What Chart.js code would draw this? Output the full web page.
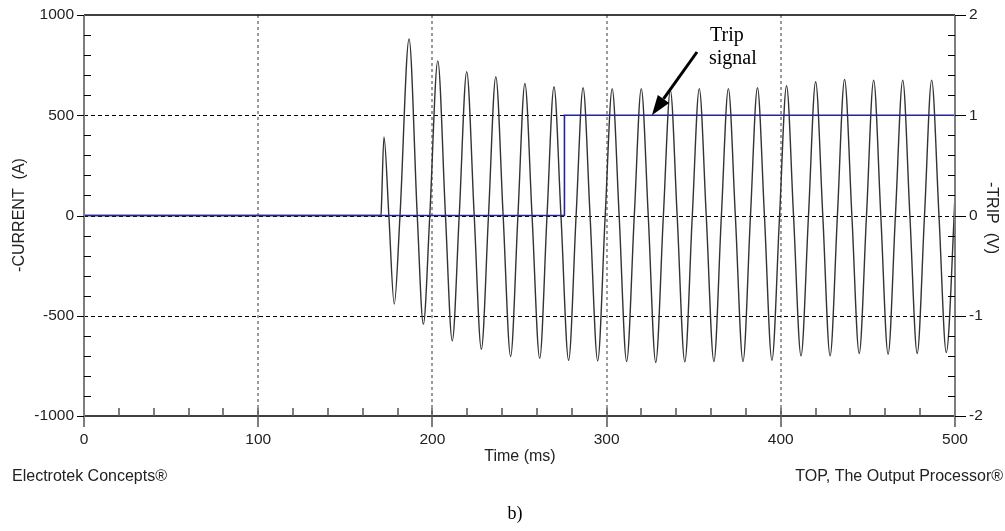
<!DOCTYPE html>
<html>
<head>
<meta charset="utf-8">
<script src="https://cdn.jsdelivr.net/npm/chart.js@4"></script>
<style>
  html, body { margin: 0; padding: 0; background: #ffffff; }
  #wrap { width: 1005px; height: 531px; position: relative; }
</style>
</head>
<body>
<div id="wrap"><canvas id="c" width="1005" height="531"></canvas></div>
<script>
// Fault current waveform (A) versus time (ms): extremes and zero crossings
const timeMs = [
  0, 170.5, 170.8, 172.2, 175.0, 178.1, 181.4, 186.6, 191.3, 194.8,
  198.5, 203.1, 207.5, 211.4, 215.4, 219.7, 224.0, 228.1, 232.2, 236.4,
  240.6, 244.9, 249.1, 253.1, 257.2, 261.6, 265.8, 269.8, 273.8, 278.2,
  282.5, 286.5, 290.5, 294.9, 299.2, 303.2, 307.2, 311.5, 315.9, 319.9,
  323.9, 328.2, 332.6, 336.6, 340.5, 344.9, 349.2, 353.2, 357.2, 361.6,
  365.9, 369.9, 373.9, 378.3, 382.6, 386.6, 390.6, 394.9, 399.3, 403.3,
  407.3, 411.6, 415.9, 420.0, 424.1, 428.3, 432.5, 436.6, 440.8, 445.0,
  449.2, 453.3, 457.4, 461.6, 465.8, 470.0, 474.1, 478.3, 482.5, 486.6,
  490.8, 495.0, 499.5, 500.0
];
const currentA = [
  0, 0, 60, 392, 0, -442, 0, 880, 0, -542,
  0, 771, 0, -625, 0, 717, 0, -667, 0, 692,
  0, -703, 0, 658, 0, -712, 0, 642, 0, -722,
  0, 637, 0, -725, 0, 633, 0, -728, 0, 633,
  0, -733, 0, 625, 0, -730, 0, 633, 0, -728,
  0, 633, 0, -728, 0, 637, 0, -722, 0, 647,
  0, -700, 0, 667, 0, -700, 0, 678, 0, -688,
  0, 675, 0, -692, 0, 675, 0, -688, 0, 675,
  0, -683, 0, 110
];

// Trip signal (V)
const tripTime = [0, 275.8, 275.8, 500];
const tripV = [0, 0, 1, 1];

// Axis ticks
const xTicks = [0, 100, 200, 300, 400, 500];
const currentTicks = [-1000, -500, 0, 500, 1000];
const tripTicks = [-2, -1, 0, 1, 2];

const SANS = '"Liberation Sans", Arial, sans-serif';
const SERIF = '"Liberation Serif", "Times New Roman", serif';

const toPoints = (xs, ys) => xs.map((t, i) => ({ x: t, y: ys[i] }));

function hLine(ctx, x0, x1, y) {
  ctx.beginPath(); ctx.moveTo(x0, y); ctx.lineTo(x1, y); ctx.stroke();
}
function vLine(ctx, x, y0, y1) {
  ctx.beginPath(); ctx.moveTo(x, y0); ctx.lineTo(x, y1); ctx.stroke();
}

const gridPlugin = {
  id: 'gridUnder',
  beforeDatasetsDraw(chart) {
    const { ctx, chartArea: a, scales: { x, y } } = chart;
    ctx.save();
    // dotted vertical grid
    ctx.strokeStyle = '#7a7a7a';
    ctx.lineWidth = 1.5;
    ctx.setLineDash([3, 3]);
    xTicks.slice(1, -1).forEach(v => {
      const px = Math.round(x.getPixelForValue(v));
      vLine(ctx, px, a.top, a.bottom);
    });
    // dashed horizontal grid
    ctx.strokeStyle = '#000000';
    ctx.lineWidth = 1;
    ctx.setLineDash([4, 3]);
    currentTicks.slice(1, -1).forEach(v => {
      const py = Math.round(y.getPixelForValue(v)) + 0.5;
      hLine(ctx, a.left, a.right, py);
    });
    ctx.restore();
  }
};

const axesPlugin = {
  id: 'axesOver',
  afterDatasetsDraw(chart) {
    const { ctx, chartArea: a, scales: { x, y, y2 } } = chart;
    ctx.save();
    ctx.setLineDash([]);

    // frame lines
    ctx.strokeStyle = '#000000';
    ctx.lineWidth = 1.5;
    hLine(ctx, a.left, a.right, a.top);
    hLine(ctx, a.left, a.right, a.bottom);
    ctx.strokeStyle = '#7d7d7d';
    ctx.lineWidth = 2;
    vLine(ctx, a.left, a.top, a.bottom + 11);
    vLine(ctx, a.right, a.top, a.bottom + 11);

    // left axis ticks
    ctx.strokeStyle = '#000000';
    ctx.lineWidth = 1;
    for (let v = -900; v < 1000; v += 100) {
      if (v % 500 === 0) continue;
      const py = Math.round(y.getPixelForValue(v)) + 0.5;
      hLine(ctx, a.left, a.left + 7, py);
    }
    currentTicks.forEach(v => {
      const py = Math.round(y.getPixelForValue(v)) + 0.5;
      hLine(ctx, a.left - 7, a.left, py);
    });

    // right axis ticks
    for (let k = -9; k <= 9; k++) {
      if (k % 5 === 0) continue;
      const py = Math.round(y2.getPixelForValue(k * 0.2)) + 0.5;
      hLine(ctx, a.right - 7, a.right, py);
    }
    tripTicks.forEach(v => {
      const py = Math.round(y2.getPixelForValue(v)) + 0.5;
      hLine(ctx, a.right, a.right + 11, py);
    });

    // bottom axis ticks
    ctx.strokeStyle = '#555555';
    ctx.lineWidth = 1.5;
    for (let v = 20; v < 500; v += 20) {
      const px = Math.round(x.getPixelForValue(v));
      if (v % 100 === 0) vLine(ctx, px, a.bottom - 8, a.bottom + 11);
      else vLine(ctx, px, a.bottom - 8, a.bottom);
    }

    // tick labels
    ctx.fillStyle = '#222222';
    ctx.font = '15.5px ' + SANS;
    ctx.textBaseline = 'middle';
    ctx.textAlign = 'right';
    currentTicks.forEach(v => ctx.fillText(String(v), a.left - 10, y.getPixelForValue(v)));
    ctx.textAlign = 'left';
    tripTicks.forEach(v => ctx.fillText(String(v), a.right + 14, y2.getPixelForValue(v)));
    ctx.textAlign = 'center';
    xTicks.forEach(v => ctx.fillText(String(v), x.getPixelForValue(v), a.bottom + 24));

    // axis titles
    ctx.font = '16px ' + SANS;
    ctx.fillText('Time (ms)', 520, 457);
    ctx.save();
    ctx.translate(20, 215);
    ctx.rotate(-Math.PI / 2);
    ctx.fillText('-CURRENT  (A)', 0, 0);
    ctx.restore();
    ctx.save();
    ctx.translate(991, 218);
    ctx.rotate(Math.PI / 2);
    ctx.fillText('-TRIP  (V)', 0, 0);
    ctx.restore();

    // footer credits
    ctx.textAlign = 'left';
    ctx.fillText('Electrotek Concepts\u00AE', 12, 477);
    ctx.textAlign = 'right';
    ctx.fillText('TOP, The Output Processor\u00AE', 1003, 477);

    // annotation
    ctx.fillStyle = '#000000';
    ctx.font = '20px ' + SERIF;
    ctx.textAlign = 'left';
    ctx.textBaseline = 'alphabetic';
    ctx.fillText('Trip', 710, 41);
    ctx.fillText('signal', 709, 64);

    const tipX = x.getPixelForValue(326), tipY = y2.getPixelForValue(1);
    const sx = 697, sy = 52;
    const ang = Math.atan2(tipY - sy, tipX - sx);
    const hl = 20, hw = 7;
    const bx = tipX - hl * Math.cos(ang), by = tipY - hl * Math.sin(ang);
    ctx.strokeStyle = '#000000';
    ctx.lineWidth = 3;
    ctx.beginPath(); ctx.moveTo(sx, sy); ctx.lineTo(bx, by); ctx.stroke();
    ctx.beginPath();
    ctx.moveTo(tipX, tipY);
    ctx.lineTo(bx + hw * Math.sin(ang), by - hw * Math.cos(ang));
    ctx.lineTo(bx - hw * Math.sin(ang), by + hw * Math.cos(ang));
    ctx.closePath();
    ctx.fill();

    // panel caption
    ctx.font = '18px ' + SERIF;
    ctx.textAlign = 'center';
    ctx.textBaseline = 'middle';
    ctx.fillText('b)', 515, 514);

    ctx.restore();
  }
};

new Chart(document.getElementById('c'), {
  type: 'line',
  data: {
    datasets: [
      {
        label: '-TRIP (V)',
        data: toPoints(tripTime, tripV),
        yAxisID: 'y2',
        borderColor: '#25259a',
        borderWidth: 1.6,
        pointRadius: 0,
        tension: 0,
        order: 0
      },
      {
        label: '-CURRENT (A)',
        data: toPoints(timeMs, currentA),
        yAxisID: 'y',
        borderColor: '#333333',
        borderWidth: 1.4,
        pointRadius: 0,
        cubicInterpolationMode: 'monotone',
        order: 1
      }
    ]
  },
  options: {
    responsive: false,
    animation: false,
    events: [],
    layout: { padding: { left: 84, right: 50, top: 15, bottom: 115 } },
    plugins: { legend: { display: false }, tooltip: { enabled: false } },
    scales: {
      x: { type: 'linear', min: 0, max: 500, display: false },
      y: { type: 'linear', min: -1000, max: 1000, display: false },
      y2: { type: 'linear', position: 'right', min: -2, max: 2, display: false }
    }
  },
  plugins: [gridPlugin, axesPlugin]
});
</script>
</body>
</html>
